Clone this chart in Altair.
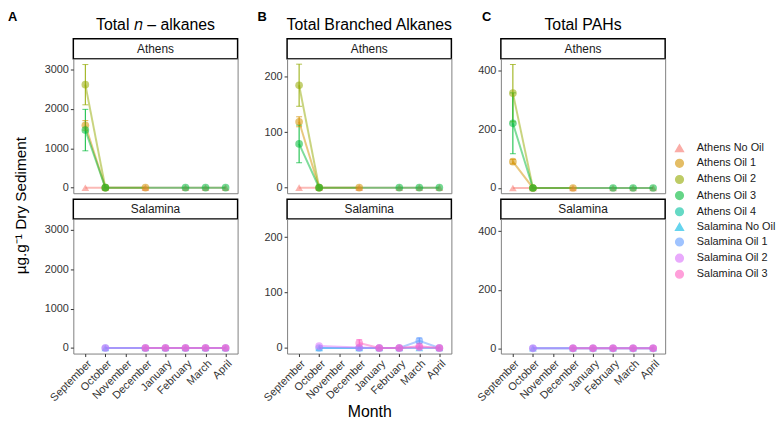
import altair as alt
import pandas as pd

FONT = "Liberation Sans"

months = ["September", "October", "November", "December", "January", "February", "March", "April"]
series = ["Athens No Oil", "Athens Oil 1", "Athens Oil 2", "Athens Oil 3", "Athens Oil 4",
          "Salamina No Oil", "Salamina Oil 1", "Salamina Oil 2", "Salamina Oil 3"]
colors = ["#F8766D", "#D39200", "#93AA00", "#00BA38", "#00C19F",
          "#00B9E3", "#619CFF", "#DB72FB", "#FF61C3"]
shapes = ["triangle-up", "circle", "circle", "circle", "circle",
          "triangle-up", "circle", "circle", "circle"]

N = None
# Total n-alkanes (mean, sd) by month
alk_mean = {
    "Athens No Oil":   [0, 0, N, 0, N, 0, 0, 0],
    "Athens Oil 1":    [1580, 0, N, 0, N, N, N, N],
    "Athens Oil 2":    [2610, 0, N, N, N, N, N, N],
    "Athens Oil 3":    [1460, 0, N, N, N, 0, 0, 0],
    "Athens Oil 4":    [N, N, N, N, N, N, N, N],
    "Salamina No Oil": [N, 0, N, 0, 0, 0, 0, 0],
    "Salamina Oil 1":  [N, 0, N, 0, 0, 0, 0, 0],
    "Salamina Oil 2":  [N, 0, N, 0, 0, 0, 0, 0],
    "Salamina Oil 3":  [N, N, N, 0, 0, 0, 0, 0],
}
alk_sd = {
    "Athens Oil 1": [120, 0, 0, 0, 0, 0, 0, 0],
    "Athens Oil 2": [510, 0, 0, 0, 0, 0, 0, 0],
    "Athens Oil 3": [525, 0, 0, 0, 0, 0, 0, 0],
}
# Total branched alkanes
br_mean = {
    "Athens No Oil":   [0, 0, N, 0, N, 0, 0, 0],
    "Athens Oil 1":    [119, 0, N, 0, N, N, N, N],
    "Athens Oil 2":    [185, 0, N, N, N, N, N, N],
    "Athens Oil 3":    [79, 0, N, N, N, 0, 0, 0],
    "Athens Oil 4":    [N, N, N, N, N, N, N, N],
    "Salamina No Oil": [N, 0, N, 0, 0, 0, 0, 0],
    "Salamina Oil 1":  [N, 0, N, 0, 0, 0, 13, 0],
    "Salamina Oil 2":  [N, 3.5, N, 1, 0, 0, 1, 0],
    "Salamina Oil 3":  [N, N, N, 9, 0, 0, 3, 0],
}
br_sd = {
    "Athens Oil 1": [9, 0, 0, 0, 0, 0, 0, 0],
    "Athens Oil 2": [38, 0, 0, 0, 0, 0, 0, 0],
    "Athens Oil 3": [34, 0, 0, 0, 0, 0, 0, 0],
    "Salamina Oil 1": [0, 0, 0, 0, 0, 0, 5, 0],
    "Salamina Oil 3": [0, 0, 0, 6, 0, 0, 0, 0],
}
# Total PAHs
pah_mean = {
    "Athens No Oil":   [0, 0, N, 0, N, 0, 0, 0],
    "Athens Oil 1":    [90, 0, N, 0, N, N, N, N],
    "Athens Oil 2":    [324, 0, N, N, N, N, N, N],
    "Athens Oil 3":    [221, 0, N, N, N, 0, 0, 0],
    "Athens Oil 4":    [N, N, N, N, N, N, N, N],
    "Salamina No Oil": [N, 0, N, 0, 0, 0, 0, 0],
    "Salamina Oil 1":  [N, 0, N, 0, 0, 0, 0, 0],
    "Salamina Oil 2":  [N, 0, N, 0, 0, 0, 0, 0],
    "Salamina Oil 3":  [N, N, N, 0, 0, 0, 0, 0],
}
pah_sd = {
    "Athens Oil 1": [8, 0, 0, 0, 0, 0, 0, 0],
    "Athens Oil 2": [98, 0, 0, 0, 0, 0, 0, 0],
    "Athens Oil 3": [104, 0, 0, 0, 0, 0, 0, 0],
}

panel_titles = ["Total 𝑛 – alkanes", "Total Branched Alkanes", "Total PAHs"]
panel_letters = ["A", "B", "C"]
letter_dx = [-66, -30, -19]
y_domains = [[-140, 3270], [-10, 233], [-18, 442]]
y_ticks = [[0, 1000, 2000, 3000], [0, 50, 100, 150, 200], [0, 100, 200, 300, 400]]
sites = ["Athens", "Salamina"]
y_title = "µg.g⁻¹ Dry Sediment"

PW, PH, SH, HH, GAP = 166, 136, 20, 26, 6


def make_df(means, sds):
    rows = []
    for s in series:
        sd = sds.get(s, [0] * len(months))
        for i, (m, v, e) in enumerate(zip(months, means[s], sd)):
            if v is None:
                continue
            rows.append(dict(series=s, site=s.split()[0], month=m, mi=i,
                             val=v, lo=v - e, hi=v + e, err=e))
    return pd.DataFrame(rows)


leg = alt.Legend(title=None, orient="none", legendX=607, legendY=131)
color_enc = alt.Color("series:N", scale=alt.Scale(domain=series, range=colors), legend=leg)
shape_enc = alt.Shape("series:N", scale=alt.Scale(domain=series, range=shapes), legend=leg)


def header(k):
    base = alt.Chart(pd.DataFrame({"t": [panel_titles[k]], "l": [panel_letters[k]]}))
    title = base.mark_text(font=FONT, fontSize=16, color="black", baseline="alphabetic"
                           ).encode(text="t:N", y=alt.value(HH - 9))
    letter = base.mark_text(font=FONT, fontSize=13, fontWeight="bold", color="black",
                            align="left", baseline="alphabetic").encode(
        text="l:N", x=alt.value(letter_dx[k]), y=alt.value(8))
    return alt.layer(title, letter).properties(
        width=PW, height=HH, view=alt.ViewBackground(stroke=None, fill=None))


def strip(site, top):
    base = alt.Chart(pd.DataFrame({"t": [site]}))
    box = base.mark_rect(fill="white", stroke="black", strokeWidth=1.5).encode(
        x=alt.value(0), x2=alt.value(PW), y=alt.value(top), y2=alt.value(top + SH))
    txt = base.mark_text(font=FONT, fontSize=12, color="#1a1a1a", baseline="middle"
                         ).encode(text="t:N", y=alt.value(top + SH / 2))
    return alt.layer(box, txt).properties(
        width=PW, height=top + SH, view=alt.ViewBackground(stroke=None, fill=None))


def plot(df, site, k):
    d = df[df.site == site]
    bottom = site == "Salamina"
    xaxis = alt.Axis(labelAngle=-45, labelAlign="right", labelBaseline="top",
                     labelFontSize=11, labelColor="#333", tickColor="#333",
                     tickSize=3, domain=False, grid=False, labelPadding=1,
                     labelFont=FONT, labelOverlap=False,
                     title="Month" if k == 1 else None,
                     titleFont=FONT, titleFontSize=16, titleFontWeight="normal",
                     titleColor="black", titlePadding=1) if bottom else None
    x = alt.X("month:N", scale=alt.Scale(type="point", domain=months, padding=0.6),
              axis=xaxis)
    yax = dict(values=y_ticks[k], format="d", grid=False, domain=False,
               labelFontSize=11, labelColor="#333", tickColor="#333",
               tickSize=3, labelPadding=2, labelFont=FONT, labelOverlap=False)
    if k == 0 and site == "Athens":
        yax.update(title=y_title, titleFont=FONT, titleFontSize=15.5,
                   titleFontWeight="normal", titleColor="black",
                   titleX=-45, titleY=148, titleAngle=270, titleBaseline="bottom",
                   titleAlign="center")
    else:
        yax.update(title=None)
    y = alt.Y("val:Q", scale=alt.Scale(domain=y_domains[k], nice=False, zero=False),
              axis=alt.Axis(**yax))
    base = alt.Chart(d)
    line = base.mark_line(opacity=0.5, strokeWidth=2).encode(
        x=x, y=y, color=color_enc, order="mi:Q")
    errd = base.transform_filter("datum.err > 0")
    rule = errd.mark_rule(strokeWidth=1).encode(
        x=x, y=alt.Y("lo:Q"), y2="hi:Q", color=color_enc)
    cap_lo = errd.mark_tick(size=6, thickness=1).encode(
        x=x, y=alt.Y("lo:Q"), color=color_enc)
    cap_hi = errd.mark_tick(size=6, thickness=1).encode(
        x=x, y=alt.Y("hi:Q"), color=color_enc)
    pts = base.mark_point(filled=True, opacity=0.55, size=60).encode(
        x=x, y=y, color=color_enc, shape=shape_enc)
    return alt.layer(line, rule, cap_lo, cap_hi, pts).properties(
        width=PW, height=PH,
        view=alt.ViewBackground(stroke="#7f7f7f", strokeWidth=1, fill="white"))


dfs = [make_df(alk_mean, alk_sd), make_df(br_mean, br_sd), make_df(pah_mean, pah_sd)]

cells = []
cells += [header(k) for k in range(3)]
cells += [strip("Athens", 0) for k in range(3)]
cells += [plot(dfs[k], "Athens", k) for k in range(3)]
cells += [strip("Salamina", GAP) for k in range(3)]
cells += [plot(dfs[k], "Salamina", k) for k in range(3)]

chart = alt.concat(*cells, columns=3, spacing={"row": 0, "column": 50},
                   bounds="flush").properties(
    padding={"left": 0, "top": 1, "right": 0, "bottom": 0},
).configure_legend(
    labelFont=FONT, labelFontSize=11, labelColor="#1a1a1a",
    symbolOpacity=0.6, rowPadding=1.3, symbolSize=60, labelOffset=12
)

chart.save("out.html", embed_options={"renderer": "svg", "actions": False})
